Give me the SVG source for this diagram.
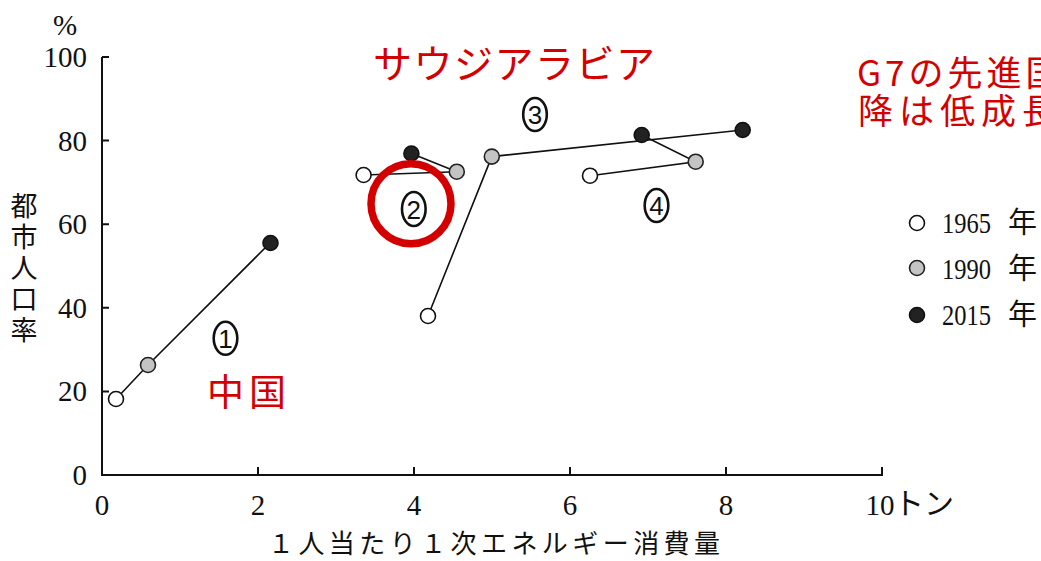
<svg xmlns="http://www.w3.org/2000/svg" width="1041" height="561" viewBox="0 0 1041 561">
<style>
.ax{stroke:#111;stroke-width:2;fill:none}
.ln{stroke:#111;stroke-width:1.6;fill:none}
.w{fill:#fff;stroke:#111;stroke-width:1.6}
.g{fill:#c4c4c4;stroke:#222;stroke-width:1.6}
.b{fill:#222;stroke:#111;stroke-width:1.6}
.num{font-family:"Liberation Serif",serif;font-size:29px;fill:#111}
.jp{font-family:"Noto Sans CJK JP",sans-serif;fill:#111}
.red{font-family:"Noto Sans CJK JP",sans-serif;fill:#d40000}
.cn{fill:none;stroke:#111;stroke-width:2.6}
.cd{font-family:"Liberation Sans",sans-serif;font-size:26px;fill:#111;text-anchor:middle}
</style>
<rect width="1041" height="561" fill="#fff"/>
<g id="axes">
<path class="ax" d="M102,57 V475 H882 V467"/>
<path class="ax" d="M102,57 h7 M102,140.6 h7 M102,224.2 h7 M102,307.8 h7 M102,391.4 h7"/>
<path class="ax" d="M258,475 v-8 M414,475 v-8 M570,475 v-8 M726,475 v-8"/>
<g class="num" text-anchor="end">
<text x="87" y="67">100</text>
<text x="87" y="151">80</text>
<text x="87" y="234">60</text>
<text x="87" y="318">40</text>
<text x="87" y="401">20</text>
<text x="87" y="485">0</text>
</g>
<g class="num" text-anchor="middle">
<text x="102" y="515">0</text>
<text x="258" y="515">2</text>
<text x="414" y="515">4</text>
<text x="570" y="515">6</text>
<text x="726" y="515">8</text>
<text x="880" y="515">10</text>
</g>
<text class="jp" x="894" y="514" font-size="30">トン</text>
<text class="num" x="65" y="35" text-anchor="middle" font-size="26">%</text>
<text class="jp" x="24" y="192" font-size="27" writing-mode="tb" letter-spacing="4">都市人口率</text>
<text class="jp" x="268" y="553" font-size="26" textLength="452" lengthAdjust="spacing">１人当たり１次エネルギー消費量</text>
</g>
<g id="connectors">
<polyline class="ln" points="116,399 148,365 270,243"/>
<polyline class="ln" points="363.6,175 456.8,171.7 411.4,153.5"/>
<polyline class="ln" points="428,316 491.8,156.6 742.7,130"/>
<polyline class="ln" points="590,175.7 695.7,161.7 641.7,135"/>
</g>
<g id="series1">
<circle class="w" cx="116" cy="399" r="7.5"/>
<circle class="g" cx="148" cy="365" r="7.5"/>
<circle class="b" cx="270.5" cy="243" r="7.5"/>
</g>
<g id="series2">
<circle class="w" cx="363.6" cy="175" r="7.5"/>
<circle class="g" cx="456.8" cy="171.7" r="7.5"/>
<circle class="b" cx="411.4" cy="153.5" r="7.5"/>
</g>
<g id="series3">
<circle class="w" cx="428" cy="316" r="7.5"/>
<circle class="g" cx="491.8" cy="156.6" r="7.5"/>
<circle class="b" cx="742.7" cy="130" r="7.5"/>
</g>
<g id="series4">
<circle class="w" cx="590" cy="175.7" r="7.5"/>
<circle class="g" cx="695.7" cy="161.7" r="7.5"/>
<circle class="b" cx="641.7" cy="135" r="7.5"/>
</g>
<g id="label1">
<ellipse class="cn" cx="225.5" cy="338.3" rx="11.8" ry="16.5"/>
<text class="cd" x="225.5" y="347.5">1</text>
</g>
<g id="label2">
<ellipse class="cn" cx="413.8" cy="209" rx="11.8" ry="17"/>
<text class="cd" x="413.8" y="218.5">2</text>
</g>
<g id="label3">
<ellipse class="cn" cx="535" cy="114.5" rx="11.8" ry="16.5"/>
<text class="cd" x="535" y="124">3</text>
</g>
<g id="label4">
<ellipse class="cn" cx="656.5" cy="205.5" rx="11.8" ry="16.5"/>
<text class="cd" x="656.5" y="215">4</text>
</g>
<g id="highlight">
<circle cx="411" cy="203.7" r="40" fill="none" stroke="#d40000" stroke-width="7.5"/>
</g>
<g id="annotations">
<text class="red" x="373" y="78" font-size="39" letter-spacing="1.5">サウジアラビア</text>
<text class="red" x="207" y="406" font-size="37" letter-spacing="5">中国</text>
<text class="red" x="857" y="86" font-size="35" letter-spacing="4">G7の先進国</text>
<text class="red" x="858" y="124" font-size="35" letter-spacing="6">降は低成長</text>
</g>
<g id="legend">
<circle class="w" cx="917" cy="223" r="7.5"/>
<circle class="g" cx="917" cy="268" r="7.5"/>
<circle class="b" cx="917" cy="315" r="7.5"/>
<g class="num" font-size="30">
<text x="942" y="233" textLength="49" lengthAdjust="spacingAndGlyphs">1965</text>
<text x="942" y="279" textLength="49" lengthAdjust="spacingAndGlyphs">1990</text>
<text x="942" y="325" textLength="49" lengthAdjust="spacingAndGlyphs">2015</text>
</g>
<g class="jp" font-size="29">
<text x="1008" y="233">年</text>
<text x="1008" y="279">年</text>
<text x="1008" y="325">年</text>
</g>
</g>
</svg>
